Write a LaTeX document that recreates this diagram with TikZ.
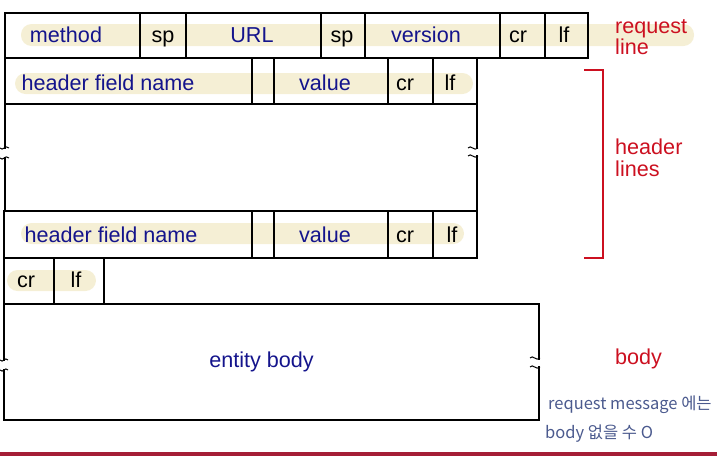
\documentclass[tikz,border=0pt]{standalone}
\usepackage{fontspec}
\setmainfont{Liberation Sans}
\newfontfamily\kr{Noto Sans CJK KR}
\definecolor{hl}{HTML}{F5EFD5}
\definecolor{navy}{HTML}{14148C}
\definecolor{redlab}{HTML}{CC1020}
\definecolor{pen}{HTML}{4B5A8E}
\definecolor{bar}{HTML}{A51E36}
\tikzset{
  cell/.style={draw=black, line width=1.8pt, inner sep=0pt},
  txt/.style={anchor=base, inner sep=0pt, font=\fontsize{21.6}{24}\selectfont},
  blue/.style={txt, text=navy},
  blk/.style={txt, text=black},
  redt/.style={anchor=base west, inner sep=0pt, text=redlab, font=\fontsize{21.6}{24}\selectfont},
  capsule/.style={fill=hl, rounded corners=10.5pt, draw=none},
  tild/.style={line width=1pt, black},
  gap/.style={fill=white, draw=none},
  note/.style={anchor=base west, inner sep=0pt, text=pen, font=\kr\fontsize{16.5}{18}\selectfont}
}
\begin{document}
\begin{tikzpicture}[x=1pt,y=-1pt]
\useasboundingbox (0,0) rectangle (717,456);
% highlights
\fill[capsule] (21,24) rectangle (694,46);
\fill[capsule] (15,73) rectangle (473,94);
\fill[capsule] (21,223) rectangle (464,244);
\fill[capsule] (7,270) rectangle (96,291);
% request line cells
\node[cell, minimum width=135, minimum height=45] (c1) at (72.5,35.5) {};
\node[cell, minimum width=46, minimum height=45] (c2) at (163,35.5) {};
\node[cell, minimum width=135, minimum height=45] (c3) at (253.5,35.5) {};
\node[cell, minimum width=44, minimum height=45] (c4) at (343,35.5) {};
\node[cell, minimum width=135, minimum height=45] (c5) at (432.5,35.5) {};
\node[cell, minimum width=45, minimum height=45] (c6) at (522.5,35.5) {};
\node[cell, minimum width=43, minimum height=45] (c7) at (566.5,35.5) {};
\node[blue] (t1) at (66,42) {method};
\node[blk] (t2) at (163,42) {sp};
\node[blue] (t3) at (252,42) {URL};
\node[blk] (t4) at (342,42) {sp};
\node[blue] (t5) at (426,42) {version};
\node[blk] (t6) at (518,42) {cr};
\node[blk] (t7) at (564,42) {lf};
% header line 1
\node[cell, minimum width=247, minimum height=46] (h1a) at (128.5,81) {};
\node[cell, minimum width=22, minimum height=46] (h1b) at (263,81) {};
\node[cell, minimum width=114, minimum height=46] (h1c) at (331,81) {};
\node[cell, minimum width=45, minimum height=46] (h1d) at (410.5,81) {};
\node[cell, minimum width=44, minimum height=46] (h1e) at (455,81) {};
\node[blue] (h1t1) at (108,90) {header field name};
\node[blue] (h1t2) at (325,90) {value};
\node[blk] (h1t3) at (405,90) {cr};
\node[blk] (h1t4) at (450,90) {lf};
% middle gap box
\node[cell, minimum width=472, minimum height=107] (mid) at (241,157.5) {};
% header line 2
\node[cell, minimum width=248, minimum height=47] (h2a) at (128,234.5) {};
\node[cell, minimum width=22, minimum height=47] (h2b) at (263,234.5) {};
\node[cell, minimum width=114, minimum height=47] (h2c) at (331,234.5) {};
\node[cell, minimum width=45, minimum height=47] (h2d) at (410.5,234.5) {};
\node[cell, minimum width=44, minimum height=47] (h2e) at (455,234.5) {};
\node[blue] (h2t1) at (111,242) {header field name};
\node[blue] (h2t2) at (325,242) {value};
\node[blk] (h2t3) at (405,242) {cr};
\node[blk] (h2t4) at (452,242) {lf};
% cr lf
\node[cell, minimum width=50, minimum height=46] (e1) at (29,281) {};
\node[cell, minimum width=50, minimum height=46] (e2) at (79,281) {};
\node[blk] (e1t) at (26,287) {cr};
\node[blk] (e2t) at (76,287) {lf};
% entity body
\node[cell, minimum width=535, minimum height=116] (body) at (271.5,362) {};
\node[blue] (bodyt) at (261.5,367) {entity body};
% break marks
\fill[gap] (1,149) rectangle (9,157);
\draw[tild] (0,148) .. controls (3,152) and (5,144) .. (9,148);
\draw[tild] (0,158) .. controls (3,162) and (5,154) .. (9,158);
\fill[gap] (473,149) rectangle (481,155);
\draw[tild] (468,148) .. controls (471,144) and (474,152) .. (478,148);
\draw[tild] (468,156) .. controls (471,152) and (474,160) .. (478,156);
\fill[gap] (0,361) rectangle (8,369);
\draw[tild] (0,360) .. controls (3,364) and (5,356) .. (8,360);
\draw[tild] (0,370) .. controls (3,374) and (5,366) .. (8,370);
\fill[gap] (535,360) rectangle (543,366);
\draw[tild] (530,358) .. controls (533,354) and (536,362) .. (540,358);
\draw[tild] (530,367) .. controls (533,363) and (536,371) .. (540,367);
% red labels
\node[redt] (rl1) at (615,33) {request};
\node[redt] (rl2) at (615,54) {line};
\node[redt] (hl1) at (615,154) {header};
\node[redt] (hl2) at (615,176) {lines};
\node[redt] (bl) at (615,364) {body};
\coordinate (bt) at (584,70);
\coordinate (bb) at (584,258);
\draw[redlab, line width=2pt] (bt) -| (603,258) -- (bb);
% handwritten note
\node[note] (n1) at (548,409) {request message 에는};
\node[note] (n2) at (545,438) {body 없을 수 O};
% bottom bar
\fill[bar] (0,452) rectangle (717,456);
\end{tikzpicture}
\end{document}
